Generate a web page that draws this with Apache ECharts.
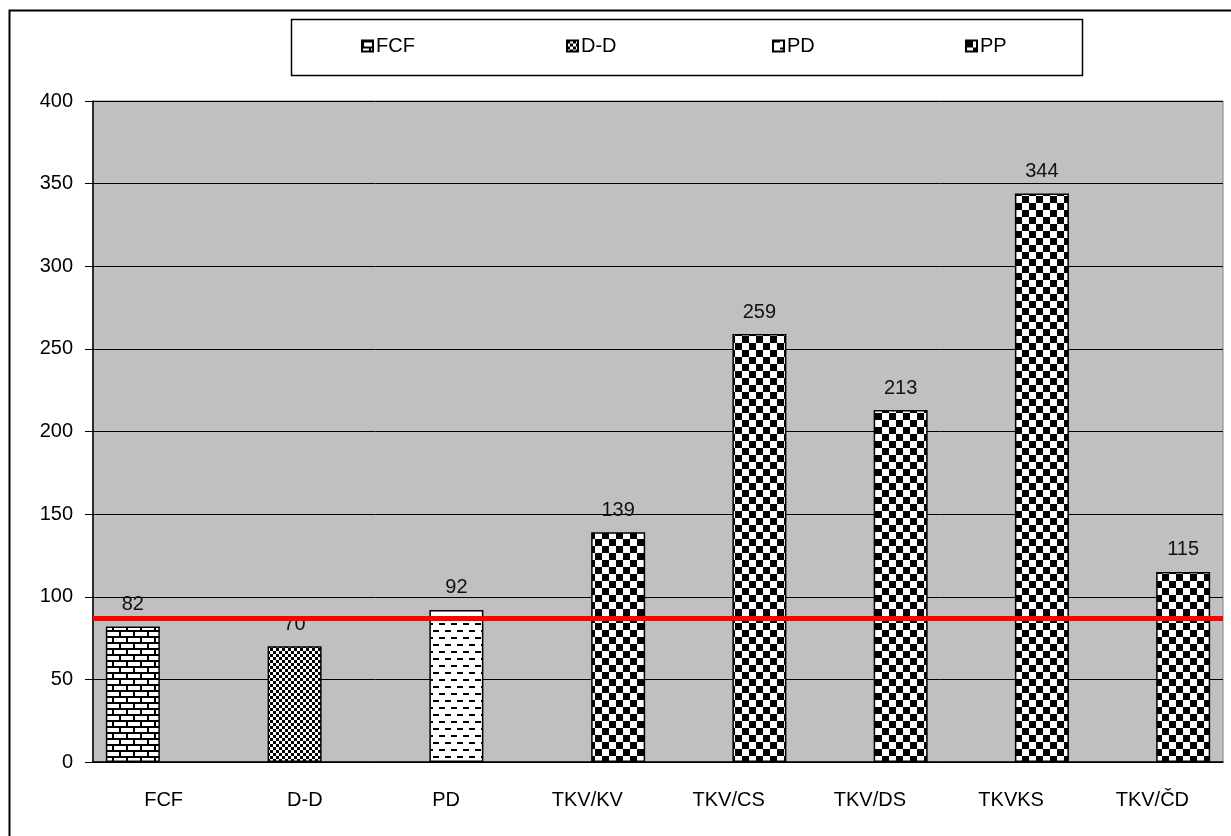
<!DOCTYPE html>
<html>
<head>
<meta charset="utf-8">
<script src="https://cdn.jsdelivr.net/npm/echarts@6/dist/echarts.min.js"></script>
<style>
  html, body { margin: 0; padding: 0; background: #fff; }
  #main { width: 1231px; height: 836px; }
</style>
</head>
<body>
<div id="main"></div>
<script>
var categories = ['FCF', 'D-D', 'PD', 'TKV/KV', 'TKV/CS', 'TKV/DS', 'TKVKS', 'TKV/ČD'];
var seriesNames = ['FCF', 'D-D', 'PD', 'PP'];
var fcfData = [82, null, null, null, null, null, null, null];
var ddData = [null, 70, null, null, null, null, null, null];
var pdData = [null, null, 92, null, null, null, null, null];
var ppData = [null, null, null, 139, 259, 213, 344, 115];
var yTicks = [0, 50, 100, 150, 200, 250, 300, 350, 400];
var refLine = 87;

var font = "'Liberation Sans', Arial, sans-serif";

// pattern tiles
function tile(w, h, draw) {
    var c = document.createElement('canvas');
    c.width = w;
    c.height = h;
    var ctx = c.getContext('2d');
    ctx.fillStyle = '#fff';
    ctx.fillRect(0, 0, w, h);
    ctx.fillStyle = '#000';
    draw(ctx);
    return { image: c, repeat: 'repeat' };
}

var brick = tile(14, 12, function (ctx) {
    ctx.fillRect(0, 0, 14, 2);
    ctx.fillRect(0, 6, 14, 2);
    ctx.fillRect(0, 0, 2, 6);
    ctx.fillRect(7, 6, 2, 6);
});
var smallCheck = tile(6, 6, function (ctx) {
    ctx.fillRect(0, 0, 3, 3);
    ctx.fillRect(3, 3, 3, 3);
});
var dashes = tile(12, 14, function (ctx) {
    ctx.fillRect(1, 0, 6, 2);
    ctx.fillRect(7, 7, 6, 2);
    ctx.fillRect(0, 7, 1, 2);
});
var bigCheck = tile(14, 14, function (ctx) {
    ctx.fillRect(0, 0, 7, 7);
    ctx.fillRect(7, 7, 7, 7);
});

var patterns = [brick, smallCheck, dashes, bigCheck];
var dataSets = [fcfData, ddData, pdData, ppData];
var legendLeft = [361, 566, 772, 965];

var myChart = echarts.init(document.getElementById('main'));

var series = [];
var legends = [];
for (var i = 0; i < seriesNames.length; i++) {
    var s = {
        name: seriesNames[i],
        type: 'bar',
        barWidth: 54,
        barGap: '-62%',
        data: dataSets[i],
        itemStyle: {
            color: patterns[i],
            borderColor: '#000',
            borderWidth: 1.5
        },
        label: {
            show: true,
            position: 'top',
            distance: 12,
            color: '#111',
            fontSize: 20,
            fontFamily: font
        },
        emphasis: { disabled: true }
    };
    if (i == seriesNames.length - 1) {
        s.markLine = {
            silent: true,
            symbol: 'none',
            label: { show: false },
            lineStyle: { color: '#ff0000', width: 5, type: 'solid' },
            data: [{ yAxis: refLine }]
        };
    }
    series.push(s);

    legends.push({
        data: [seriesNames[i]],
        left: legendLeft[i],
        top: 36,
        icon: 'rect',
        itemWidth: 11,
        itemHeight: 11,
        itemGap: 0,
        padding: 0,
        selectedMode: false,
        textStyle: {
            fontSize: 20,
            fontFamily: font,
            color: '#000',
            padding: [0, 0, 0, -2]
        }
    });
}

var option = {
    animation: false,
    backgroundColor: '#fff',
    graphic: [
        {
            type: 'rect',
            shape: { x: 9.5, y: 10.5, width: 1300, height: 900 },
            style: { fill: 'none', stroke: '#000', lineWidth: 2 },
            z: -10
        },
        {
            type: 'rect',
            shape: { x: 291.5, y: 19.5, width: 791, height: 56 },
            style: { fill: '#fff', stroke: '#000', lineWidth: 1.5 },
            z: -5
        }
    ],
    legend: legends,
    grid: {
        left: 93,
        top: 101,
        width: 1130,
        height: 661,
        show: true,
        backgroundColor: '#c0c0c0',
        borderColor: '#808080',
        borderWidth: 1
    },
    xAxis: {
        type: 'category',
        data: categories,
        axisLine: { lineStyle: { color: '#000', width: 1.5 } },
        axisTick: { length: 9, lineStyle: { color: '#000' } },
        axisLabel: {
            margin: 28,
            fontSize: 20,
            fontFamily: font,
            color: '#000'
        }
    },
    yAxis: {
        type: 'value',
        min: yTicks[0],
        max: yTicks[yTicks.length - 1],
        interval: yTicks[1] - yTicks[0],
        axisLine: { show: true, lineStyle: { color: '#000', width: 1.5 } },
        axisTick: { show: true, length: 8, lineStyle: { color: '#000' } },
        splitLine: { lineStyle: { color: '#000', width: 1 } },
        axisLabel: {
            margin: 20,
            fontSize: 20,
            fontFamily: font,
            color: '#000'
        }
    },
    series: series
};

myChart.setOption(option);
</script>
</body>
</html>
